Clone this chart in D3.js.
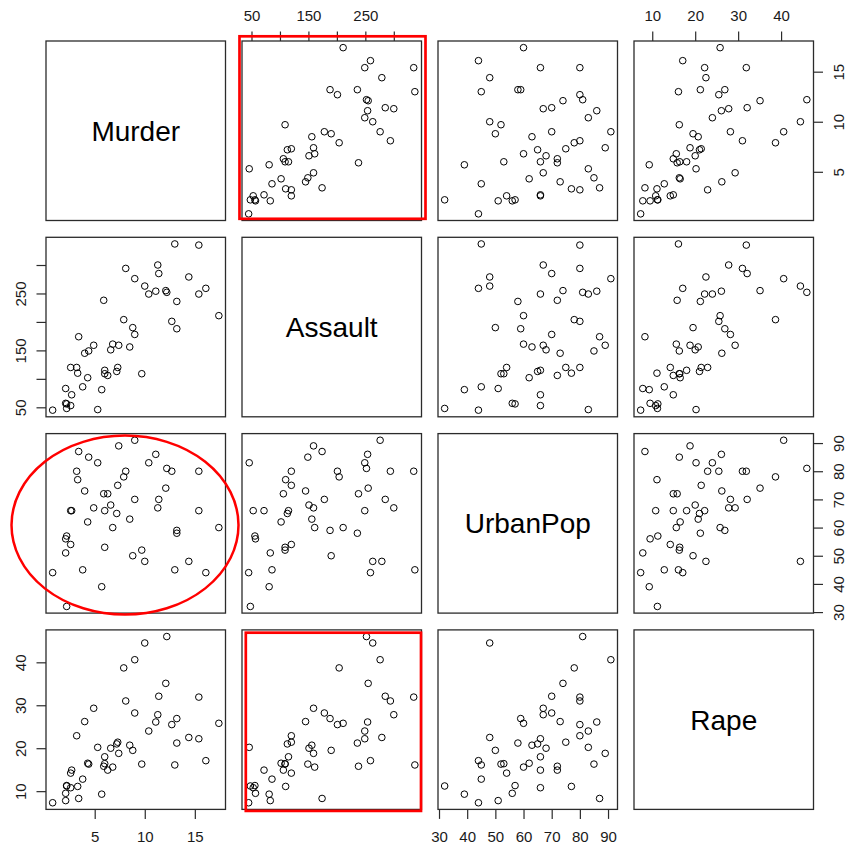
<!DOCTYPE html>
<html>
<head>
<meta charset="utf-8">
<script src="https://cdn.jsdelivr.net/npm/d3@7"></script>
<style>
  html, body { margin: 0; padding: 0; background: #fff; }
  svg { display: block; font-family: "Liberation Sans", Arial, sans-serif; }
</style>
</head>
<body>
<svg id="chart" width="856" height="851"></svg>
<script>
// USArrests: violent crime rates by US state (1973)
const states = ["Alabama","Alaska","Arizona","Arkansas","California","Colorado","Connecticut","Delaware","Florida","Georgia","Hawaii","Idaho","Illinois","Indiana","Iowa","Kansas","Kentucky","Louisiana","Maine","Maryland","Massachusetts","Michigan","Minnesota","Mississippi","Missouri","Montana","Nebraska","Nevada","New Hampshire","New Jersey","New Mexico","New York","North Carolina","North Dakota","Ohio","Oklahoma","Oregon","Pennsylvania","Rhode Island","South Carolina","South Dakota","Tennessee","Texas","Utah","Vermont","Virginia","Washington","West Virginia","Wisconsin","Wyoming"];
const murder = [13.2,10.0,8.1,8.8,9.0,7.9,3.3,5.9,15.4,17.4,5.3,2.6,10.4,7.2,2.2,6.0,9.7,15.4,2.1,11.3,4.4,12.1,2.7,16.1,9.0,6.0,4.3,12.2,2.1,7.4,11.4,11.1,13.0,0.8,7.3,6.6,4.9,6.3,3.4,14.4,3.8,13.2,12.7,3.2,2.2,8.5,4.0,5.7,2.6,6.8];
const assault = [236,263,294,190,276,204,110,238,335,211,46,120,249,113,56,115,109,249,83,300,149,255,72,259,178,109,102,252,57,159,285,254,337,45,120,151,159,106,174,279,86,188,201,120,48,156,145,81,53,161];
const urbanPop = [58,48,80,50,91,78,77,72,80,60,83,54,83,65,57,66,52,66,51,67,85,74,66,44,70,53,62,81,56,89,70,86,45,44,75,68,67,72,87,48,45,59,80,80,32,63,73,39,66,60];
const rape = [21.2,44.5,31.0,19.5,40.6,38.7,11.1,15.8,31.9,25.8,20.2,14.2,24.0,21.0,11.3,18.0,16.3,22.2,7.8,27.8,16.3,35.1,14.9,17.1,28.2,16.4,16.5,46.0,9.5,18.8,32.1,26.1,16.1,7.3,21.4,20.0,29.3,14.9,8.3,22.5,12.8,26.9,25.5,22.9,11.2,20.7,26.2,9.3,10.8,15.6];

const varNames = ["Murder", "Assault", "UrbanPop", "Rape"];
const columns = [murder, assault, urbanPop, rape];

// tick positions and the labels that are printed (null = tick without label)
const murderTicks = [5, 10, 15];
const murderLabels = ["5", "10", "15"];
const assaultTicks = [50, 100, 150, 200, 250, 300];
const assaultLabels = ["50", null, "150", null, "250", null];
const urbanPopTicks = [30, 40, 50, 60, 70, 80, 90];
const urbanPopLabels = ["30", "40", "50", "60", "70", "80", "90"];
const rapeTicks = [10, 20, 30, 40];
const rapeLabels = ["10", "20", "30", "40"];
const ticks = [murderTicks, assaultTicks, urbanPopTicks, rapeTicks];
const tickLabels = [murderLabels, assaultLabels, urbanPopLabels, rapeLabels];

// layout
const n = 4;
const gridLeft = 46, gridTop = 41, size = 179.5, stepX = 196, stepY = 196.3;
const tickLen = 9.5;
const frameColor = "#2b2b2b";
const textColor = "#1a1a1a";

const svg = d3.select("#chart");

// R-style range padding (4% on each side)
function paddedDomain(v) {
  const [lo, hi] = d3.extent(v);
  const pad = (hi - lo) * 0.04;
  return [lo - pad, hi + pad];
}

const px = (j) => gridLeft + j * stepX;
const py = (i) => gridTop + i * stepY;

const xScales = columns.map((v, j) => d3.scaleLinear().domain(paddedDomain(v)).range([px(j), px(j) + size]));
const yScales = columns.map((v, i) => d3.scaleLinear().domain(paddedDomain(v)).range([py(i) + size, py(i)]));

const labelFor = (k) => (d) => {
  const idx = ticks[k].indexOf(d);
  const l = tickLabels[k][idx];
  return l == null ? "" : l;
};

// panels
for (let i = 0; i < n; i++) {
  for (let j = 0; j < n; j++) {
    const g = svg.append("g");
    if (i === j) {
      g.append("text")
        .attr("x", px(j) + size / 2)
        .attr("y", py(i) + size / 2)
        .attr("dy", "0.36em")
        .attr("text-anchor", "middle")
        .attr("font-size", 28)
        .attr("fill", "#000")
        .text(varNames[i]);
    } else {
      const xs = xScales[j], ys = yScales[i];
      g.selectAll("circle")
        .data(d3.range(states.length))
        .join("circle")
        .attr("cx", (k) => xs(columns[j][k]))
        .attr("cy", (k) => ys(columns[i][k]))
        .attr("r", 3.3)
        .attr("fill", "none")
        .attr("stroke", "#000")
        .attr("stroke-width", 1);
    }
    g.append("rect")
      .attr("x", px(j)).attr("y", py(i))
      .attr("width", size).attr("height", size)
      .attr("fill", "none")
      .attr("stroke", frameColor)
      .attr("stroke-width", 1.3);
  }
}

function styleAxis(sel) {
  sel.select(".domain").remove();
  sel.selectAll(".tick line").attr("stroke", frameColor).attr("stroke-width", 1.2);
  sel.selectAll(".tick text").attr("fill", textColor).attr("font-size", 15)
    .attr("font-family", "\"Liberation Sans\", Arial, sans-serif");
}

// top axes (even columns)
for (let j = 1; j < n; j += 2) {
  const ax = d3.axisTop(xScales[j]).tickValues(ticks[j]).tickFormat(labelFor(j))
    .tickSize(tickLen).tickPadding(10.8);
  svg.append("g").attr("transform", `translate(0,${py(0)})`).call(ax).call(styleAxis);
}
// bottom axes (odd columns)
for (let j = 0; j < n; j += 2) {
  const ax = d3.axisBottom(xScales[j]).tickValues(ticks[j]).tickFormat(labelFor(j))
    .tickSize(tickLen).tickPadding(12);
  svg.append("g").attr("transform", `translate(0,${py(n - 1) + size})`).call(ax).call(styleAxis);
}
// left axes (even rows), labels parallel to the axis
for (let i = 1; i < n; i += 2) {
  const ax = d3.axisLeft(yScales[i]).tickValues(ticks[i]).tickFormat(labelFor(i)).tickSize(tickLen);
  const g = svg.append("g").attr("transform", `translate(${px(0)},0)`).call(ax).call(styleAxis);
  g.selectAll(".tick text")
    .attr("x", null).attr("dy", null)
    .attr("text-anchor", "middle")
    .attr("transform", "translate(-20,0) rotate(-90)");
}
// right axes (odd rows)
for (let i = 0; i < n; i += 2) {
  const ax = d3.axisRight(yScales[i]).tickValues(ticks[i]).tickFormat(labelFor(i)).tickSize(tickLen);
  const g = svg.append("g").attr("transform", `translate(${px(n - 1) + size},0)`).call(ax).call(styleAxis);
  g.selectAll(".tick text")
    .attr("x", null).attr("dy", null)
    .attr("text-anchor", "middle")
    .attr("transform", "translate(30,0) rotate(-90)");
}

// highlight marks: boxes around the Murder~Assault and Rape~Assault panels,
// ellipse around the UrbanPop~Murder panel
const hl = svg.append("g").attr("fill", "none").attr("stroke", "#ff0000").attr("stroke-width", 2.7);
hl.append("rect")
  .attr("x", px(1) - 2.5).attr("y", py(0) - 4.7)
  .attr("width", size + 6.5).attr("height", size + 3);
hl.append("rect")
  .attr("x", px(1) + 3.8).attr("y", py(3) + 2.8)
  .attr("width", size - 4.3).attr("height", size - 1.3);
hl.append("ellipse")
  .attr("cx", px(0) + 79).attr("cy", py(2) + 91.5)
  .attr("rx", 113.5).attr("ry", 89.5)
  .attr("stroke-width", 2.5);
</script>
</body>
</html>
